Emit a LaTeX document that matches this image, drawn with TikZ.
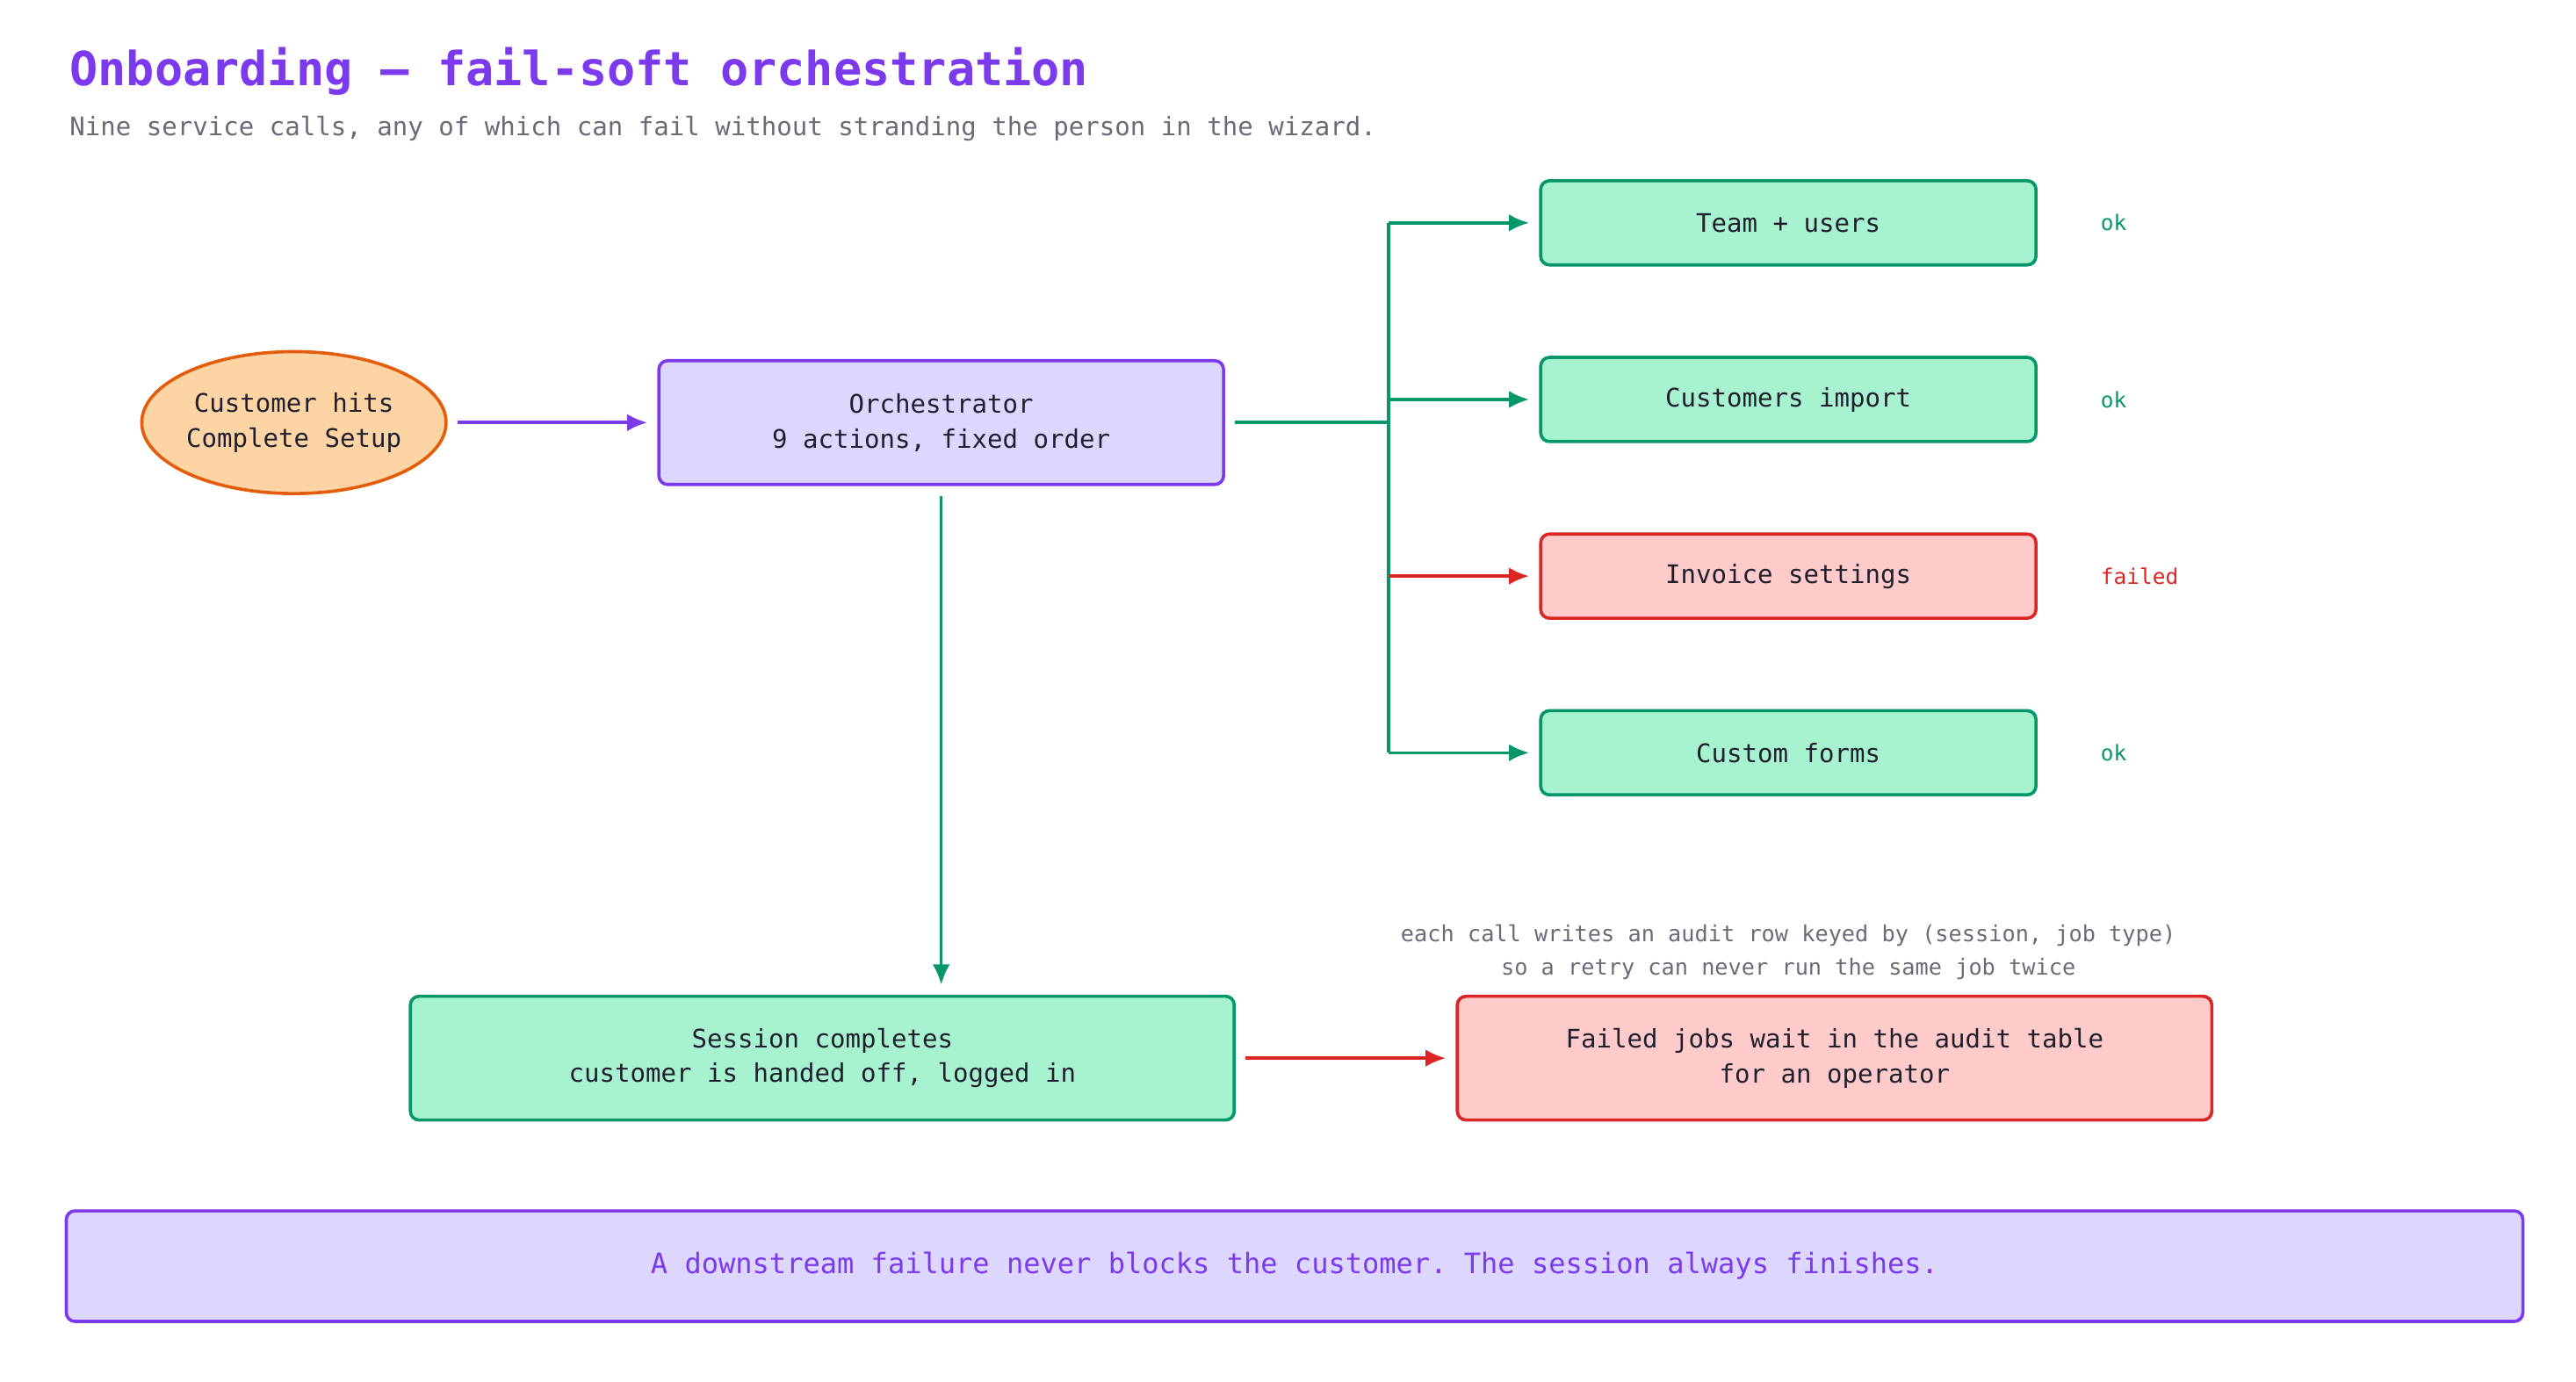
\documentclass[tikz,border=0pt]{standalone}
\usepackage{fontspec}
\setmonofont{DejaVu Sans Mono}
\usetikzlibrary{arrows.meta, positioning, shapes.geometric}
\definecolor{purp}{HTML}{7C3AED}
\definecolor{purpfill}{HTML}{DDD6FE}
\definecolor{grn}{HTML}{059669}
\definecolor{grnfill}{HTML}{A7F3D0}
\definecolor{rd}{HTML}{DC2626}
\definecolor{rdfill}{HTML}{FECACA}
\definecolor{org}{HTML}{E35D0C}
\definecolor{orgfill}{HTML}{FDD5A5}
\definecolor{txt}{HTML}{1F1F2E}
\definecolor{gry}{HTML}{6B6B78}

\begin{document}
\begin{tikzpicture}[
    x=0.02cm, y=-0.02cm,
    font=\ttfamily\fontsize{8.8}{12}\selectfont,
    >={Latex[length=7pt,width=6pt]},
    box/.style={draw, rounded corners=3pt, line width=1.1pt, align=center, text=txt, inner sep=0pt},
    okbox/.style={box, draw=grn, fill=grnfill, minimum width=6cm, minimum height=1.02cm},
    badbox/.style={box, draw=rd, fill=rdfill, minimum width=6cm, minimum height=1.02cm},
    flow/.style={->, line width=1.1pt, shorten <=0.12cm, shorten >=0.12cm},
    tag/.style={anchor=west, font=\ttfamily\fontsize{7.4}{9}\selectfont}
]
    \useasboundingbox (0,0) rectangle (1560,837);

    % Heading
    \node[anchor=west, text=purp, font=\ttfamily\bfseries\fontsize{16.2}{19}\selectfont] (title) at (36,43) {Onboarding — fail-soft orchestration};
    \node[anchor=west, text=gry, font=\ttfamily\fontsize{8.8}{11}\selectfont] (sub) at (36,78) {Nine service calls, any of which can fail without stranding the person in the wizard.};

    % Main flow
    \node[ellipse, draw=org, fill=orgfill, line width=1.1pt, minimum width=3.68cm, minimum height=1.72cm, align=center, text=txt, inner sep=0pt] (hit) at (178,256) {Customer hits\\Complete Setup};
    \node[box, draw=purp, fill=purpfill, minimum width=6.84cm, minimum height=1.5cm] (orch) at (570,256) {Orchestrator\\9 actions, fixed order};

    % Service calls
    \node[okbox] (team) at (1083,135) {Team + users};
    \node[okbox] (cust) at (1083,242) {Customers import};
    \node[badbox] (inv) at (1083,349) {Invoice settings};
    \node[okbox] (forms) at (1083,456) {Custom forms};
    \node[tag, text=grn] (tteam) at (1266,135) {ok};
    \node[tag, text=grn] (tcust) at (1266,242) {ok};
    \node[tag, text=rd] (tinv) at (1266,349) {failed};
    \node[tag, text=grn] (tforms) at (1266,456) {ok};

    % Outcomes
    \node[box, draw=grn, fill=grnfill, minimum width=9.98cm, minimum height=1.5cm] (done) at (498,641) {Session completes\\customer is handed off, logged in};
    \node[box, draw=rd, fill=rdfill, minimum width=9.14cm, minimum height=1.5cm] (wait) at (1111,641) {Failed jobs wait in the audit table\\for an operator};
    \node[text=gry, align=center, font=\ttfamily\fontsize{7.65}{11.5}\selectfont] (note) at (1083,577) {each call writes an audit row keyed by (session, job type)\\so a retry can never run the same job twice};

    \node[box, draw=purp, fill=purpfill, minimum width=29.76cm, minimum height=1.34cm, text=purp, font=\ttfamily\fontsize{9.7}{12}\selectfont] (banner) at (784,767) {A downstream failure never blocks the customer. The session always finishes.};

    % Connectors
    \draw[flow, purp] (hit) -- (orch);
    \coordinate (split) at (841,256);
    \draw[line width=1.1pt, grn, shorten <=0.12cm] (orch.east) -- (split);
    \draw[line width=1.1pt, grn] (split|-team) -- (split|-forms);
    \draw[flow, grn, shorten <=0pt] (split|-team) -- (team);
    \draw[flow, grn, shorten <=0pt] (split|-cust) -- (cust);
    \draw[flow, rd, shorten <=0pt] (split|-inv) -- (inv);
    \draw[flow, grn, shorten <=0pt] (split|-forms) -- (forms);
    \draw[flow, grn] (orch.south) -- (orch.south|-done.north);
    \draw[flow, rd] (done) -- (wait);
\end{tikzpicture}
\end{document}
